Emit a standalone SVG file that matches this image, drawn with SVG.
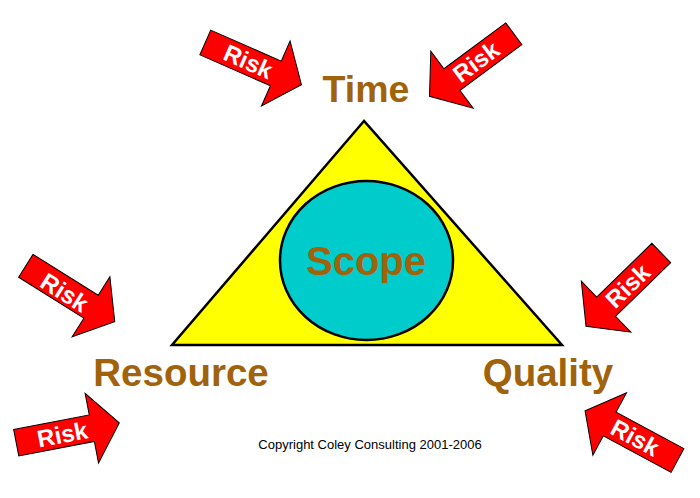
<svg xmlns="http://www.w3.org/2000/svg" width="700" height="498" viewBox="0 0 700 498">
<defs>
<style>
.lbl{font-family:"Liberation Sans",Arial,sans-serif;font-weight:bold;fill:#A0620A;text-anchor:middle}
.risk{font-family:"Liberation Sans",Arial,sans-serif;font-weight:bold;font-size:24px;fill:#fff;text-anchor:middle}
.arr{fill:#FF0000;stroke:#000;stroke-width:1;stroke-linejoin:miter}
.copy{font-family:"Liberation Sans",Arial,sans-serif;font-size:13px;fill:#000;text-anchor:middle}
</style>
<polygon id="riskArrow" class="arr" points="0,-13.5 77,-13.5 77,-35.5 105,0 77,35.5 77,13.5 0,13.5"/>
</defs>
<rect width="700" height="498" fill="#fff"/>
<g id="triangle">
<polygon points="364,121 172,345 562,345" fill="#FFFF00" stroke="#000" stroke-width="2.5" stroke-linejoin="miter"/>
</g>
<g id="scope">
<ellipse cx="366.5" cy="260.5" rx="86.5" ry="79.5" fill="#00CCCC" stroke="#000" stroke-width="2.5"/>
<text class="lbl" x="366" y="275" font-size="40">Scope</text>
</g>
<g id="time"><text class="lbl" x="366" y="102" font-size="37.5">Time</text></g>
<g id="resource"><text class="lbl" x="181" y="386" font-size="38.5">Resource</text></g>
<g id="quality"><text class="lbl" x="548" y="386" font-size="38.5">Quality</text></g>
<g id="connectors">
<g id="risk1"><use href="#riskArrow" transform="translate(205.3,42.5) rotate(23.7)"/><text class="risk" transform="translate(248.3,61.4) rotate(23.7)" y="8.5">Risk</text></g>
<g id="risk2"><use href="#riskArrow" transform="translate(513.8,33.7) rotate(143.4)"/><text class="risk" transform="translate(476.1,61.7) rotate(-36.6)" y="8.5">Risk</text></g>
<g id="risk3"><use href="#riskArrow" transform="translate(25.8,265.8) rotate(32.1)"/><text class="risk" transform="translate(64.6,292.3) rotate(32.1)" y="8.5">Risk</text></g>
<g id="risk4"><use href="#riskArrow" transform="translate(661.3,253) rotate(135.8)"/><text class="risk" transform="translate(627.6,285.8) rotate(-44.2)" y="8.5">Risk</text></g>
<g id="risk5"><use href="#riskArrow" transform="translate(16.2,442.7) rotate(-10.9)"/><text class="risk" transform="translate(62.4,434.3) rotate(-10.9)" y="8.5">Risk</text></g>
<g id="risk6"><use href="#riskArrow" transform="translate(677.5,460.5) rotate(208.3)"/><text class="risk" transform="translate(635.1,437.5) rotate(28.3)" y="8.5">Risk</text></g>
</g>
<g id="copyright"><text class="copy" x="370" y="449">Copyright Coley Consulting 2001-2006</text></g>
</svg>
